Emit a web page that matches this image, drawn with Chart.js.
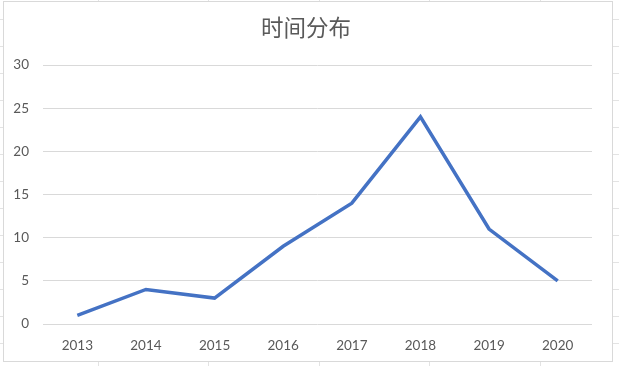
<!DOCTYPE html>
<html>
<head>
<meta charset="utf-8">
<script src="https://cdn.jsdelivr.net/npm/chart.js@4"></script>
<style>
  html, body { margin: 0; padding: 0; }
  body {
    width: 619px; height: 366px; position: relative; overflow: hidden;
    background-color: #fff;
    background-image:
      repeating-linear-gradient(to bottom, transparent 0, transparent 19px, #e3e3e3 19px, #e3e3e3 20px, transparent 20px, transparent 27px),
      repeating-linear-gradient(to right, transparent 0, transparent 98px, #e3e3e3 98px, #e3e3e3 99px, transparent 99px, transparent 110.5px);
  }
  #frame {
    position: absolute; left: 3px; top: 1px; width: 608px; height: 359px;
    border: 1px solid #d9d9d9; background: #fff;
  }
  #wrap { position: absolute; left: 0; top: 0; width: 619px; height: 366px; }
</style>
</head>
<body>
<div id="frame"></div>
<div id="wrap"><canvas id="lineChart" width="619" height="366"></canvas></div>
<script>
// data
const years = ['2013', '2014', '2015', '2016', '2017', '2018', '2019', '2020'];
const counts = [1, 4, 3, 9, 14, 24, 11, 5];
const yTicks = [0, 5, 10, 15, 20, 25, 30];

const tickFont = { family: 'Lato, "Open Sans", sans-serif', size: 13.5 };
const grey = '#595959';

// Excel centres the title a bit further right than Chart.js does
const titleShift = {
    id: 'titleShift',
    afterLayout(chart) {
        const t = chart.titleBlock;
        if (t) { t.left += 20; t.width = t.right - t.left; }
    }
};

const ctx = document.getElementById('lineChart').getContext('2d');
new Chart(ctx, {
    type: 'line',
    data: {
        labels: years,
        datasets: [{
            label: '时间分布',
            data: counts,
            borderColor: '#4472C4',
            borderWidth: 3.5,
            pointRadius: 0,
            tension: 0,
            fill: false
        }]
    },
    options: {
        responsive: false,
        animation: false,
        layout: { padding: { left: 0, right: 27, top: 0, bottom: 12 } },
        plugins: {
            legend: { display: false },
            tooltip: { enabled: false },
            title: {
                display: true,
                text: '时间分布',
                color: grey,
                font: { family: '"Noto Sans CJK SC", sans-serif', size: 22.5, weight: 'normal', lineHeight: 1.2 },
                padding: { top: 14, bottom: 24 }
            }
        },
        scales: {
            x: {
                offset: true,
                grid: { display: false, drawTicks: false },
                border: { display: false },
                ticks: { color: grey, font: tickFont, padding: 14, maxRotation: 0 },
                afterFit: scale => { scale.height = 30; }
            },
            y: {
                min: yTicks[0],
                max: yTicks[yTicks.length - 1],
                grid: { color: '#d9d9d9', lineWidth: 1, drawTicks: false },
                border: { display: false },
                ticks: {
                    stepSize: yTicks[1] - yTicks[0],
                    color: grey, font: tickFont, padding: 14
                },
                afterFit: scale => { scale.width = 43; }
            }
        }
    },
    plugins: [titleShift]
});
</script>
</body>
</html>
